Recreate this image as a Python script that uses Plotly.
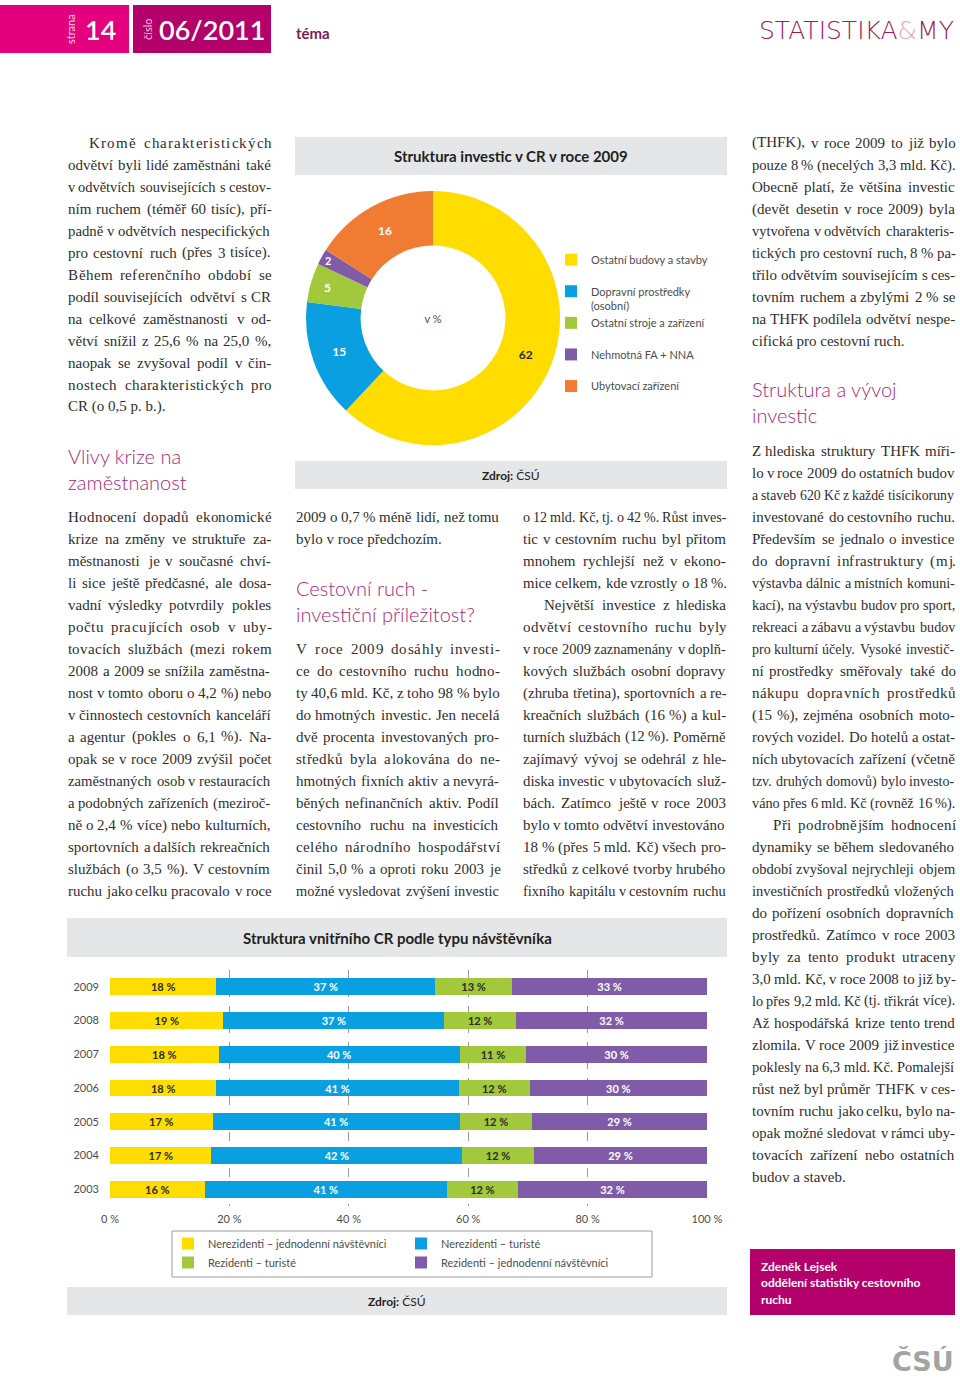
import unicodedata
import plotly.graph_objects as go

W, H = 960, 1378

# ---------------- data ----------------
donut_labels = ["Ostatní budovy a stavby", "Dopravní prostředky<br>(osobní)",
                "Ostatní stroje a zařízení", "Nehmotná FA + NNA", "Ubytovací zařízení"]
donut_values = [62, 15, 5, 2, 16]
donut_colors = ["#FFDD00", "#0A9FE0", "#A2C83B", "#805CA8", "#F07C33"]
donut_text_colors = ["#2b2b2b", "white", "white", "white", "white"]

years = ["2003", "2004", "2005", "2006", "2007", "2008", "2009"]
series_names = ["Nerezidenti – jednodenní návštěvníci", "Nerezidenti – turisté",
                "Rezidenti – turisté", "Rezidenti – jednodenní návštěvníci"]
nerez_jednodenni = [16, 17, 17, 18, 18, 19, 18]
nerez_turiste = [41, 42, 41, 41, 40, 37, 37]
rez_turiste = [12, 12, 12, 12, 11, 12, 13]
rez_jednodenni = [32, 29, 29, 30, 30, 32, 33]
series_values = [nerez_jednodenni, nerez_turiste, rez_turiste, rez_jednodenni]
series_colors = ["#FFDD00", "#0A9FE0", "#A2C83B", "#805CA8"]
series_text_colors = ["#2b2b2b", "white", "#2b2b2b", "white"]
series_legend = ["legend2", "legend3", "legend2", "legend3"]
x_ticks = [0, 20, 40, 60, 80, 100]

col1_a = ["  Kromě charakteristických", "odvětví byli lidé zaměstnáni také",
          "v odvětvích souvisejících s cestov-", "ním ruchem (téměř 60 tisíc), pří-",
          "padně v odvětvích nespecifických", "pro cestovní ruch (přes 3 tisíce).",
          "Během referenčního období se", "podíl souvisejících odvětví s CR",
          "na celkové zaměstnanosti v od-", "větví snížil z 25,6 % na 25,0 %,",
          "naopak se zvyšoval podíl v čin-", "nostech charakteristických pro",
          "CR (o 0,5 p. b.)."]
col1_a_ends = [12]
col1_h = ["Vlivy krize na", "zaměstnanost"]
col1_b = ["Hodnocení dopadů ekonomické", "krize na změny ve struktuře za-",
          "městnanosti je v současné chví-", "li sice ještě předčasné, ale dosa-",
          "vadní výsledky potvrdily pokles", "počtu pracujících osob v uby-",
          "tovacích službách (mezi rokem", "2008 a 2009 se snížila zaměstna-",
          "nost v tomto oboru o 4,2 %) nebo", "v činnostech cestovních kanceláří",
          "a agentur (pokles o 6,1 %). Na-", "opak se v roce 2009 zvýšil počet",
          "zaměstnaných osob v restauracích", "a podobných zařízeních (meziroč-",
          "ně o 2,4 % více) nebo kulturních,", "sportovních a dalších rekreačních",
          "službách (o 3,5 %). V cestovním", "ruchu jako celku pracovalo v roce"]
col1_b_ends = []
col2_a = ["2009 o 0,7 % méně lidí, než tomu", "bylo v roce předchozím."]
col2_a_ends = [1]
col2_h = ["Cestovní ruch -", "investiční příležitost?"]
col2_b = ["V roce 2009 dosáhly investi-", "ce do cestovního ruchu hodno-",
          "ty 40,6 mld. Kč, z toho 98 % bylo", "do hmotných investic. Jen necelá",
          "dvě procenta investovaných pro-", "středků byla alokována do ne-",
          "hmotných fixních aktiv a nevyrá-", "běných nefinančních aktiv. Podíl",
          "cestovního ruchu na investicích", "celého národního hospodářství",
          "činil 5,0 % a oproti roku 2003 je", "možné vysledovat zvýšení investic"]
col2_b_ends = []
col3 = ["o 12 mld. Kč, tj. o 42 %. Růst inves-", "tic v cestovním ruchu byl přitom",
        "mnohem rychlejší než v ekono-", "mice celkem, kde vzrostly o 18 %.",
        "  Největší investice z hlediska", "odvětví cestovního ruchu byly",
        "v roce 2009 zaznamenány v doplň-", "kových službách osobní dopravy",
        "(zhruba třetina), sportovních a re-", "kreačních službách (16 %) a kul-",
        "turních službách (12 %). Poměrně", "zajímavý vývoj se odehrál z hle-",
        "diska investic v ubytovacích služ-", "bách. Zatímco ještě v roce 2003",
        "bylo v tomto odvětví investováno", "18 % (přes 5 mld. Kč) všech pro-",
        "středků z celkové tvorby hrubého", "fixního kapitálu v cestovním ruchu"]
col3_ends = []
col4_a = ["(THFK), v roce 2009 to již bylo", "pouze 8 % (necelých 3,3 mld. Kč).",
          "Obecně platí, že většina investic", "(devět desetin v roce 2009) byla",
          "vytvořena v odvětvích charakteris-", "tických pro cestovní ruch, 8 % pa-",
          "třilo odvětvím souvisejícím s ces-", "tovním ruchem a zbylými 2 % se",
          "na THFK podílela odvětví nespe-", "cifická pro cestovní ruch."]
col4_a_ends = [9]
col4_h = ["Struktura a vývoj", "investic"]
col4_b = ["Z hlediska struktury THFK míři-", "lo v roce 2009 do ostatních budov",
          "a staveb 620 Kč z každé tisícikoruny", "investované do cestovního ruchu.",
          "Především se jednalo o investice", "do dopravní infrastruktury (mj.",
          "výstavba dálnic a místních komuni-", "kací), na výstavbu budov pro sport,",
          "rekreaci a zábavu a výstavbu budov", "pro kulturní účely. Vysoké investič-",
          "ní prostředky směřovaly také do", "nákupu dopravních prostředků",
          "(15 %), zejména osobních moto-", "rových vozidel. Do hotelů a ostat-",
          "ních ubytovacích zařízení (včetně", "tzv. druhých domovů) bylo investo-",
          "váno přes 6 mld. Kč (rovněž 16 %).", "  Při podrobnějším hodnocení",
          "dynamiky se během sledovaného", "období zvyšoval nejrychleji objem",
          "investičních prostředků vložených", "do pořízení osobních dopravních",
          "prostředků. Zatímco v roce 2003", "byly za tento produkt utraceny",
          "3,0 mld. Kč, v roce 2008 to již by-", "lo přes 9,2 mld. Kč (tj. třikrát více).",
          "Až hospodářská krize tento trend", "zlomila. V roce 2009 již investice",
          "poklesly na 6,3 mld. Kč. Pomalejší", "růst než byl průměr THFK v ces-",
          "tovním ruchu jako celku, bylo na-", "opak možné sledovat v rámci uby-",
          "tovacích zařízení nebo ostatních", "budov a staveb."]
col4_b_ends = [16, 33]
author_lines = ["Zdeněk Lejsek", "oddělení statistiky cestovního", "ruchu"]

# ---------------- styles ----------------
SANS = "Lato"
SERIF = "Liberation Serif"
BODY_COLOR = "#2e2e2e"
HEAD_COLOR = "#a8287a"
GRAY_BOX = "#e5e6e7"
LABEL_COLOR = "#4d4d4d"
BODY_SIZE = 15
COL_W = 204
INDENT = 21
WIDTH_FACTOR = 1.03      # rendered glyph advances are a little wider than nominal
MAX_WORD_EXTRA = 3.0     # extra px per word space before letter spacing is used
MIN_SPACE_RATIO = 0.75   # tightest allowed word space (fraction of a normal space)

# Times/Liberation Serif advance widths (1/1000 em) for justification
SERIF_W = {" ": 250, "a": 444, "b": 500, "c": 444, "d": 500, "e": 444, "f": 333, "g": 500,
           "h": 500, "i": 278, "j": 278, "k": 500, "l": 278, "m": 778, "n": 500, "o": 500,
           "p": 500, "q": 500, "r": 333, "s": 389, "t": 278, "u": 500, "v": 500, "w": 722,
           "x": 500, "y": 500, "z": 444, ",": 250, ".": 250, "(": 333, ")": 333, "-": 333,
           "%": 833, "A": 722, "B": 667, "C": 667, "D": 722, "E": 611, "F": 556, "G": 722,
           "H": 722, "I": 333, "J": 389, "K": 722, "L": 611, "M": 889, "N": 722, "O": 722,
           "P": 556, "R": 667, "S": 556, "T": 611, "U": 722, "V": 722, "Z": 611}


def char_w(ch, size):
    if ch in SERIF_W:
        w = SERIF_W[ch]
    else:
        base = unicodedata.normalize("NFD", ch)[0]
        w = SERIF_W.get(base, 500 if ch.isdigit() else 480)
    return w * size / 1000.0 * WIDTH_FACTOR


def text_w(s, size):
    return sum(char_w(c, size) for c in s)


def px(x):
    return x / W


def py(y):
    return 1 - y / H


shapes = []
annotations = []


def rect(x0, y0, x1, y1, fill, line=None):
    shapes.append(dict(type="rect", xref="paper", yref="paper",
                       x0=px(x0), x1=px(x1), y0=py(y1), y1=py(y0),
                       fillcolor=fill if fill else "rgba(0,0,0,0)",
                       line=dict(width=1 if line else 0, color=line or "rgba(0,0,0,0)"),
                       layer="below"))


def txt(x, y, text, size, color, family=SANS, xanchor="left", angle=0, weight=None):
    f = dict(size=size, color=color, family=family)
    if weight:
        f["weight"] = weight
    annotations.append(dict(x=px(x), y=py(y), xref="paper", yref="paper", text=text,
                            showarrow=False, xanchor=xanchor, yanchor="middle",
                            font=f, textangle=angle, borderpad=0))


def body(x, y, s, size):
    txt(x, y, s, size, BODY_COLOR, family=SERIF)


def column(lines, x, y0, ends=(), step=22):
    for i, line in enumerate(lines):
        indent = INDENT if line.startswith("  ") else 0
        s = line.strip()
        avail = COL_W - indent
        y = y0 + step * i
        words = s.split(" ")
        nsp = len(words) - 1
        size = BODY_SIZE
        space = char_w(" ", size)
        words_w = sum(text_w(w, size) for w in words)
        natural = words_w + nsp * space
        cx = x + indent
        if natural > avail:
            # tight line: squeeze word spaces, shrink type only if still too long
            min_gap = MIN_SPACE_RATIO * space
            if nsp > 0 and (avail - words_w) / nsp >= min_gap:
                gap = (avail - words_w) / nsp
            else:
                k = avail / (words_w + nsp * min_gap)
                size *= k
                gap = min_gap * k
            for w in words:
                body(cx, y, w, size)
                cx += text_w(w, size) + gap
            continue
        if i in ends:
            body(cx, y, s, size)
            continue
        extra = avail - natural
        if nsp > 0 and extra / nsp <= MAX_WORD_EXTRA:
            gap = space + extra / nsp
            for w in words:
                body(cx, y, w, size)
                cx += text_w(w, size) + gap
        else:
            # word spacing capped, rest as letter spacing
            word_extra = MAX_WORD_EXTRA if nsp > 0 else 0.0
            rest = extra - word_extra * nsp
            letter = rest / max(1, len(s) - 1)
            for ch in s:
                if ch == " ":
                    cx += space + word_extra + letter
                else:
                    body(cx, y, ch, size)
                    cx += char_w(ch, size) + letter


def heading(lines, x, y0):
    for i, line in enumerate(lines):
        txt(x, y0 + 26 * i, line, 20, HEAD_COLOR, family=SANS, weight=300)


# ---------------- header ----------------
rect(0, 5, 129, 53, "#E4007C")
rect(133, 5, 271, 53, "#B3006A")
txt(70, 29, "strana", 11, "#fbd3e8", angle=-90, xanchor="center")
txt(100, 29, "14", 27, "white", xanchor="center", weight=600)
txt(147, 29, "číslo", 11, "#f0c4dc", angle=-90, xanchor="center")
txt(212, 29, "06/2011", 27, "white", xanchor="center", weight=600)
txt(295, 33, "<b>téma</b>", 15, "#7d1a5a")
txt(955, 30, "<span style='color:#9b1b5e'>STATISTIKA</span>"
             "<span style='color:#e0a5c4'>&amp;</span>"
             "<span style='color:#9b1b5e'>MY</span>",
    25, "#9b1b5e", family="DejaVu Sans", xanchor="right", weight=300)

# ---------------- text columns ----------------
column(col1_a, 67, 143, col1_a_ends)
heading(col1_h, 67, 456)
column(col1_b, 67, 517, col1_b_ends)
column(col2_a, 295, 517, col2_a_ends)
heading(col2_h, 295, 588)
column(col2_b, 295, 649, col2_b_ends)
column(col3, 522, 517, col3_ends)
column(col4_a, 751, 143, col4_a_ends)
heading(col4_h, 751, 389)
column(col4_b, 751, 451, col4_b_ends)

# ---------------- donut chart frame ----------------
rect(295, 137, 727, 175, GRAY_BOX)
txt(511, 156, "<b>Struktura investic v CR v roce 2009</b>", 15, "#222", xanchor="center")
rect(295, 461, 727, 489, GRAY_BOX)
txt(511, 475, "<b>Zdroj:</b> ČSÚ", 12, "#222", xanchor="center")

# ---------------- bar chart frame ----------------
rect(67, 918, 727, 957, GRAY_BOX)
txt(397, 938, "<b>Struktura vnitřního CR podle typu návštěvníka</b>", 15, "#222", xanchor="center")
rect(172, 1231, 652, 1277, None, line="#9a9a9a")
rect(67, 1287, 727, 1315, GRAY_BOX)
txt(397, 1301, "<b>Zdroj:</b> ČSÚ", 12, "#222", xanchor="center")

# ---------------- author box + logo ----------------
rect(750, 1249, 955, 1315, "#B3006A")
for i, line in enumerate(author_lines):
    txt(760, 1266 + 16.5 * i, "<b>" + line + "</b>", 12, "white")
txt(955, 1361, "<b>ČSÚ</b>", 27, "#a3a3a3", family="DejaVu Sans", xanchor="right")

fig = go.Figure()

# donut
fig.add_trace(go.Pie(
    labels=[l + ("" if "<br>" in l else "<br>\u00a0") for l in donut_labels],
    values=donut_values,
    marker=dict(colors=donut_colors, line=dict(width=0)),
    hole=0.57, sort=False, direction="clockwise", rotation=0,
    texttemplate="<b>%{value}</b>", textposition="inside",
    insidetextorientation="horizontal",
    textfont=dict(size=12, color=donut_text_colors, family=SANS),
    domain=dict(x=[px(306), px(560)], y=[py(445), py(191)]),
    title=dict(text="v %", position="middle center",
               font=dict(size=11, color=LABEL_COLOR, family=SANS)),
    legend="legend", showlegend=True,
))

# stacked bars
for name, vals, col, tcol, lg in zip(series_names, series_values, series_colors,
                                     series_text_colors, series_legend):
    fig.add_trace(go.Bar(
        y=years, x=vals, name=name, orientation="h",
        marker=dict(color=col, line=dict(width=0)),
        text=vals, texttemplate="<b>%{text} %</b>", textposition="inside",
        insidetextanchor="middle", constraintext="none",
        textfont=dict(size=11, color=tcol, family=SANS),
        legend=lg,
    ))

legend_font = dict(size=11, color=LABEL_COLOR, family=SANS)
fig.update_layout(
    width=W, height=H, margin=dict(l=0, r=0, t=0, b=0, autoexpand=False),
    paper_bgcolor="white", plot_bgcolor="rgba(0,0,0,0)",
    barmode="stack", barnorm="percent", bargap=0.5,
    font=dict(family=SANS, color=LABEL_COLOR),
    xaxis=dict(domain=[px(110), px(707)], range=[0, 100], tickvals=x_ticks,
               ticktext=[f"{v} %" for v in x_ticks], showgrid=True,
               gridcolor="#9a9a9a", griddash="dash", gridwidth=1, zeroline=False,
               showline=False, tickfont=dict(size=11, color=LABEL_COLOR),
               ticklabelstandoff=5, automargin=False, fixedrange=True),
    yaxis=dict(domain=[py(1206), py(970)], type="category",
               categoryorder="array", categoryarray=years, range=[-0.5, 6.5],
               showgrid=False, zeroline=False, showline=False,
               tickfont=dict(size=11, color=LABEL_COLOR), ticklabelstandoff=10,
               automargin=False, fixedrange=True),
    legend=dict(x=px(551), y=py(246), xanchor="left", yanchor="top", itemwidth=30,
                bgcolor="rgba(0,0,0,0)", font=legend_font, valign="top"),
    legend2=dict(x=px(168), y=py(1229), xanchor="left", yanchor="top", traceorder="normal",
                 bgcolor="rgba(0,0,0,0)", font=legend_font),
    legend3=dict(x=px(401), y=py(1229), xanchor="left", yanchor="top", traceorder="normal",
                 bgcolor="rgba(0,0,0,0)", font=legend_font),
    shapes=shapes, annotations=annotations,
)

fig.write_html("out.html", config={"displayModeBar": False},
               post_script="document.body.style.margin='0';document.body.style.overflow='hidden';")
